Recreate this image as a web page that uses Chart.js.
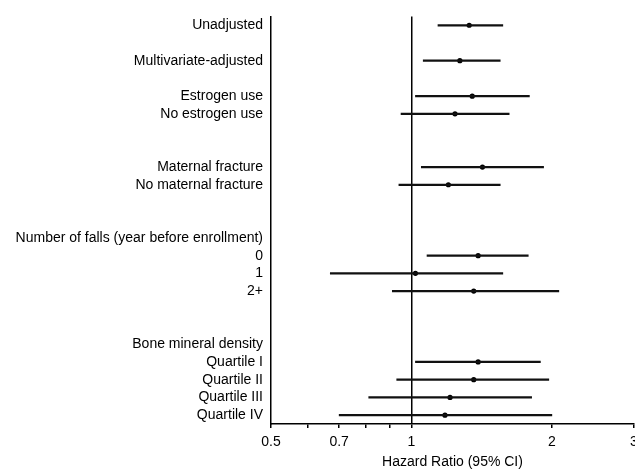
<!DOCTYPE html>
<html>
<head>
<meta charset="utf-8">
<script src="https://cdn.jsdelivr.net/npm/chart.js@4/dist/chart.umd.min.js"></script>
<style>
  html, body { margin: 0; padding: 0; background: #fff; overflow: hidden; }
  #wrap { width: 650px; height: 471px; }
</style>
</head>
<body>
<div id="wrap"><canvas id="forest"></canvas></div>
<script>
// Rows of the plot, top to bottom (blank strings are spacer rows)
const rowLabels = [
    'Unadjusted', '',
    'Multivariate-adjusted', '',
    'Estrogen use', 'No estrogen use', '', '',
    'Maternal fracture', 'No maternal fracture', '', '',
    'Number of falls (year before enrollment)', '0', '1', '2+', '', '',
    'Bone mineral density', 'Quartile I', 'Quartile II', 'Quartile III', 'Quartile IV'
];

// Hazard ratios and 95% CI bounds
const hazardRatio = [1.33, null, 1.27, null, 1.35, 1.24, null, null, 1.42, 1.20, null, null,
    null, 1.39, 1.02, 1.36, null, null, null, 1.39, 1.36, 1.21, 1.18];
const ciLower = [1.14, null, 1.06, null, 1.02, 0.95, null, null, 1.05, 0.94, null, null,
    null, 1.08, 0.67, 0.91, null, null, null, 1.02, 0.93, 0.81, 0.70];
const ciUpper = [1.57, null, 1.55, null, 1.79, 1.62, null, null, 1.92, 1.55, null, null,
    null, 1.78, 1.57, 2.07, null, null, null, 1.89, 1.97, 1.81, 2.00];

// x axis ticks (log scale)
const xTickValues = [0.5, 0.6, 0.7, 0.8, 0.9, 1, 2, 3];
const xTickLabels = ['0.5', '', '0.7', '', '', '1', '2', '3'];

const ciBars = ciLower.map((lo, i) => (lo === null ? null : [lo, ciUpper[i]]));

const FONT = { family: '"Liberation Sans", Arial, sans-serif', size: 14 };

const ctx = document.getElementById('forest').getContext('2d');
const forest = new Chart(ctx, {
    data: {
        labels: rowLabels,
        datasets: [{
            type: 'bar',
            label: '95% CI',
            data: ciBars,
            backgroundColor: '#111',
            barThickness: 1.6,
            borderWidth: 0
        }, {
            type: 'line',
            label: 'Hazard ratio',
            data: hazardRatio,
            showLine: false,
            pointRadius: 2.6,
            pointBackgroundColor: '#000',
            pointBorderColor: '#000',
            pointBorderWidth: 0
        }]
    },
    options: {
        indexAxis: 'y',
        responsive: true,
        maintainAspectRatio: false,
        animation: false,
        layout: { padding: { top: 15, right: 16, bottom: 0, left: 0 } },
        plugins: {
            legend: { display: false },
            tooltip: { enabled: false }
        },
        scales: {
            y: {
                type: 'category',
                offset: true,
                grid: { display: false, drawTicks: false },
                border: { display: true, color: '#000', width: 1.5 },
                ticks: {
                    autoSkip: false,
                    padding: 8,
                    color: '#000',
                    font: FONT
                },
                afterFit: (scale) => { scale.width = 271; }
            },
            x: {
                type: 'logarithmic',
                min: 0.5,
                max: 3,
                afterBuildTicks: (scale) => {
                    scale.ticks = xTickValues.map(v => ({ value: v }));
                },
                ticks: {
                    autoSkip: false,
                    maxRotation: 0,
                    padding: 6,
                    color: '#000',
                    font: FONT,
                    callback: (value) => {
                        const i = xTickValues.indexOf(value);
                        return i >= 0 ? xTickLabels[i] : '';
                    }
                },
                grid: {
                    drawOnChartArea: true,
                    color: (c) => (c.tick && c.tick.value === 1 ? '#000' : 'rgba(0,0,0,0)'),
                    lineWidth: 1.5,
                    tickColor: '#000',
                    tickLength: 4
                },
                border: { display: true, color: '#000', width: 1.5 },
                title: {
                    display: true,
                    text: 'Hazard Ratio (95% CI)',
                    color: '#000',
                    font: FONT,
                    padding: { top: 6, bottom: 0 }
                },
                afterFit: (scale) => { scale.height = 47; }
            }
        }
    }
});
</script>
</body>
</html>
